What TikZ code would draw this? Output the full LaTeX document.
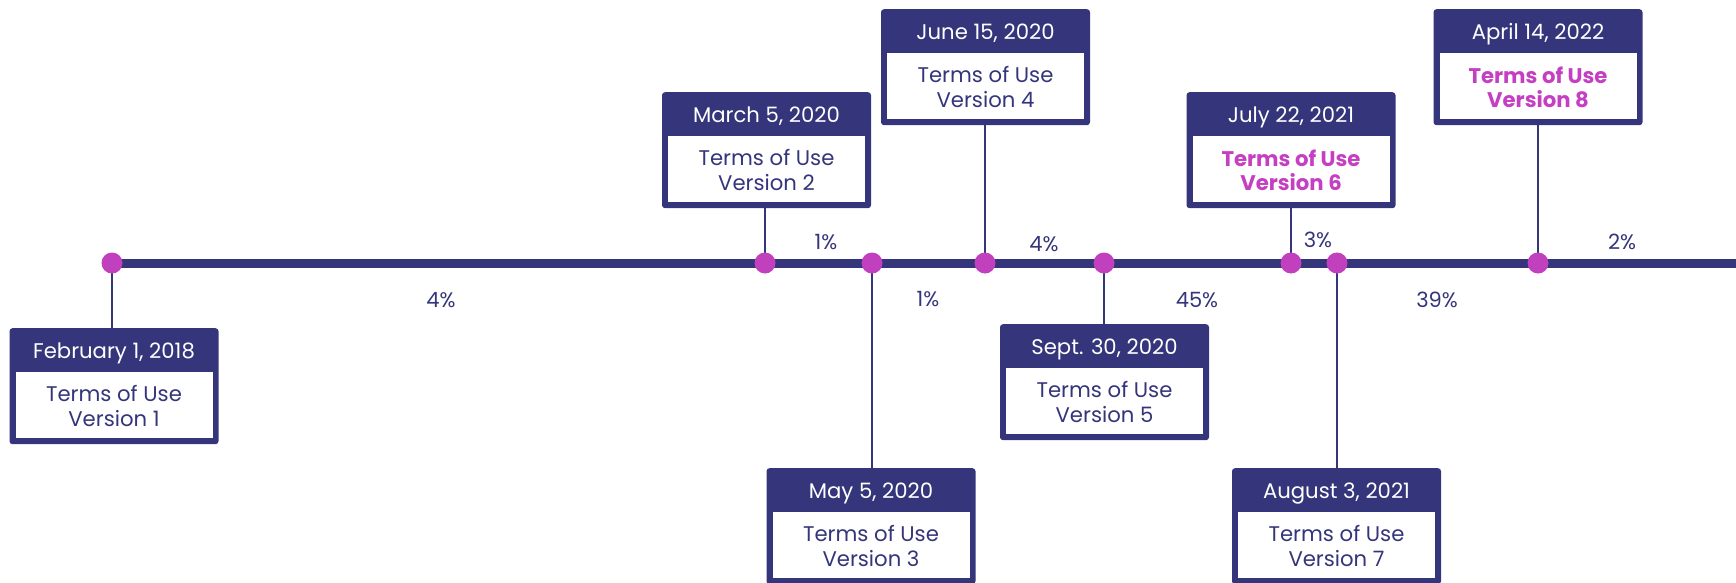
\documentclass[tikz,border=0pt]{standalone}
\usepackage{fontspec}
\setmainfont{Poppins}
\usetikzlibrary{backgrounds}
\definecolor{navy}{RGB}{52,53,122}
\definecolor{magenta}{RGB}{192,64,190}
\definecolor{hl}{RGB}{197,63,195}
\tikzset{
  timeline/.style={draw=navy, line width=9pt},
  dot/.style={circle, fill=magenta, minimum size=21pt, inner sep=0pt},
  conn/.style={draw=navy, line width=2pt},
  boxouter/.style={fill=navy, rounded corners=3pt, minimum width=209pt, minimum height=116pt, inner sep=0pt},
  boxinner/.style={fill=white, minimum width=197pt, minimum height=66pt, inner sep=0pt},
  hdr/.style={text=white, font=\fontsize{21.2}{25}\selectfont, inner sep=0pt},
  body/.style={text=navy, font=\fontsize{21.2}{24.5}\selectfont, align=center, inner sep=0pt},
  bodyhl/.style={text=hl, font=\fontsize{21.2}{24.5}\selectfont\bfseries, align=center, inner sep=0pt},
  pct/.style={text=navy, font=\fontsize{21}{25}\selectfont, inner sep=0pt}
}
\newcommand{\tlbox}[6]{%
  \node[boxouter, anchor=north] (#1) at (#2,#3) {};
  \node[boxinner, anchor=north] (#1i) at ([yshift=-44pt]#1.north) {};
  \node[hdr, anchor=base] (#1h) at ([yshift=-30pt]#1.north) {#4};
  \node[#6] (#1t) at ([yshift=-1pt]#1i.center) {#5};
}
\begin{document}
\begin{tikzpicture}[x=1pt, y=-1pt]
\useasboundingbox (0,0) rectangle (1736,582);
% dots
\node[dot] (d1) at (112,263) {};
\node[dot] (d2) at (765,263) {};
\node[dot] (d3) at (872,263) {};
\node[dot] (d4) at (985,263) {};
\node[dot] (d5) at (1104,263) {};
\node[dot] (d6) at (1291,263) {};
\node[dot] (d7) at (1337,263) {};
\node[dot] (d8) at (1538,263) {};
\coordinate (tend) at (1736,263);
% boxes
\tlbox{b1}{114}{328}{February 1, 2018}{Terms of Use\\Version 1}{body}
\tlbox{b2}{766.5}{92}{March 5, 2020}{Terms of Use\\Version 2}{body}
\tlbox{b3}{871}{468}{May 5, 2020}{Terms of Use\\Version 3}{body}
\tlbox{b4}{985.5}{9}{June 15, 2020}{Terms of Use\\Version 4}{body}
\tlbox{b5}{1104.5}{324}{Sept. 30, 2020}{Terms of Use\\Version 5}{body}
\tlbox{b6}{1291}{92}{July 22, 2021}{Terms of Use\\Version 6}{bodyhl}
\tlbox{b7}{1336.5}{468}{August 3, 2021}{Terms of Use\\Version 7}{body}
\tlbox{b8}{1538}{9}{April 14, 2022}{Terms of Use\\Version 8}{bodyhl}
% line and connectors behind
\begin{pgfonlayer}{background}
\draw[timeline] (d1.center) -- (tend);
\draw[conn] (d1.center) -- (d1 |- b1.north);
\draw[conn] (d2.center) -- (d2 |- b2.south);
\draw[conn] (d3.center) -- (d3 |- b3.north);
\draw[conn] (d4.center) -- (d4 |- b4.south);
\draw[conn] (d5.center) -- (d5 |- b5.north);
\draw[conn] (d6.center) -- (d6 |- b6.south);
\draw[conn] (d7.center) -- (d7 |- b7.north);
\draw[conn] (d8.center) -- (d8 |- b8.south);
\end{pgfonlayer}
% percentages
\node[pct] (p1) at (441,300) {4\%};
\node[pct] (p2) at (826,242) {1\%};
\node[pct] (p3) at (928,299) {1\%};
\node[pct] (p4) at (1044,244) {4\%};
\node[pct] (p5) at (1197,300) {45\%};
\node[pct] (p6) at (1318,240) {3\%};
\node[pct] (p7) at (1437,300) {39\%};
\node[pct] (p8) at (1622,242) {2\%};
\end{tikzpicture}
\end{document}
